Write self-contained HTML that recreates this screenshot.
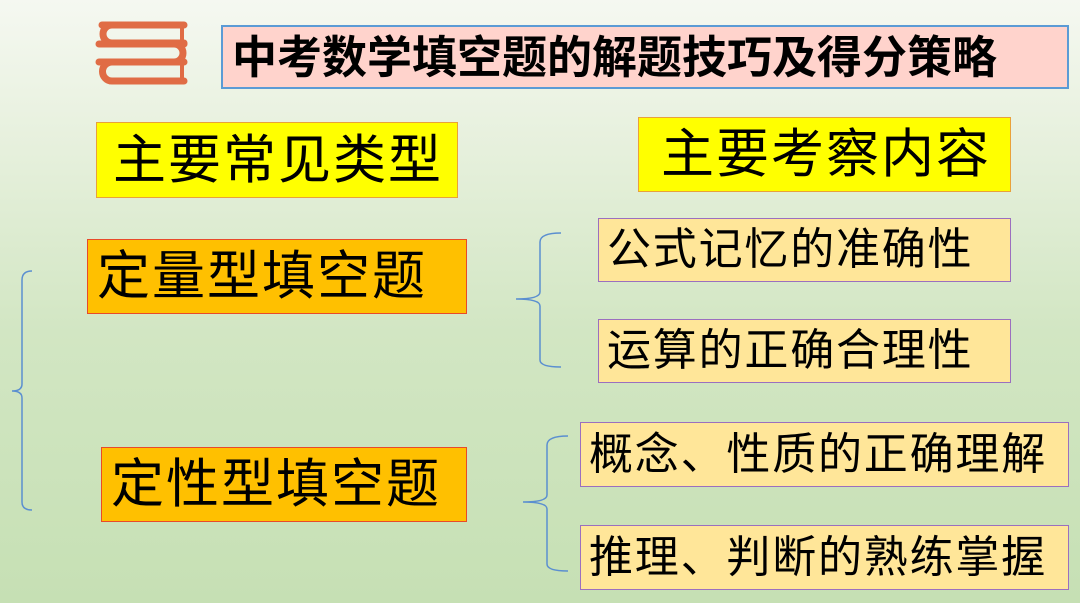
<!DOCTYPE html>
<html><head><meta charset="utf-8"><style>
html,body{margin:0;padding:0}
body{width:1080px;height:603px;position:relative;overflow:hidden;
background:linear-gradient(180deg,#f5f8f1 0%,#e6f0dc 25%,#d2e6c3 55%,#c6e0b4 100%);
font-family:"Liberation Sans","Noto Sans CJK SC",sans-serif;color:#000}
.b{position:absolute;box-sizing:border-box;display:flex;align-items:center;white-space:nowrap;line-height:1}
</style></head><body>
<svg style="position:absolute;left:0;top:0" width="1080" height="603">
 <g fill="none" stroke="#e06c45" stroke-width="7" stroke-linecap="round">
  <path d="M102 25 H184"/><path d="M184 43 H112 A9 9 0 0 1 112 25"/>
  <path d="M99 44 H184"/><path d="M174 44 A9 9 0 0 1 174 62 H104"/>
  <path d="M99 62 H184"/><path d="M184 81 H112 A9.5 9.5 0 0 1 112 62"/>
  <path d="M182 25 V81" stroke-width="4"/>
 </g>
 <g fill="none" stroke="#5b8fd0" stroke-width="1.5">
  <path d="M32 271 Q22 271 22 280 V384 Q22 391 12 391 Q22 391 22 398 V502 Q22 510 32 510"/>
  <path d="M561 233 Q540 233 540 242 V292 Q540 299 516 299 Q540 299 540 306 V360 Q540 367 561 367"/>
  <path d="M568 436 Q547 436 547 445 V495 Q547 502 523 502 Q547 502 547 509 V564 Q547 571 568 571"/>
 </g>
</svg>
<div class="b" style="left:221px;top:25px;width:848px;height:64px;background:#ffd3cc;border:2px solid #5b9bd5;padding-left:9px;font-size:45px;font-weight:bold;letter-spacing:0px">中考数学填空题的解题技巧及得分策略</div>
<div class="b" style="left:96px;top:122px;width:362px;height:76px;background:#ffff00;border:1px solid #e9a13b;padding-left:16px;font-size:53px;letter-spacing:2px">主要常见类型</div>
<div class="b" style="left:638px;top:117px;width:373px;height:75px;background:#ffff00;border:1px solid #e9a13b;padding-left:22px;font-size:53px;letter-spacing:2px">主要考察内容</div>
<div class="b" style="left:87px;top:239px;width:380px;height:75px;background:#ffc000;border:1.5px solid #e84a2a;padding-left:9px;font-size:53px;letter-spacing:2px">定量型填空题</div>
<div class="b" style="left:101px;top:447px;width:366px;height:75px;background:#ffc000;border:1.5px solid #e84a2a;padding-left:9px;font-size:53px;letter-spacing:2px">定性型填空题</div>
<div class="b" style="left:598px;top:218px;width:413px;height:64px;background:#ffe699;border:1.5px solid #9b6fbf;padding-left:8px;font-size:44px;letter-spacing:1.8px">公式记忆的准确性</div>
<div class="b" style="left:598px;top:319px;width:413px;height:64px;background:#ffe699;border:1.5px solid #9b6fbf;padding-left:8px;font-size:44px;letter-spacing:1.8px">运算的正确合理性</div>
<div class="b" style="left:580px;top:422px;width:489px;height:65px;background:#ffe699;border:1.5px solid #9b6fbf;padding-left:8px;font-size:44px;letter-spacing:1.8px">概念、性质的正确理解</div>
<div class="b" style="left:580px;top:525px;width:489px;height:65px;background:#ffe699;border:1.5px solid #9b6fbf;padding-left:8px;font-size:44px;letter-spacing:1.8px">推理、判断的熟练掌握</div>
</body></html>
